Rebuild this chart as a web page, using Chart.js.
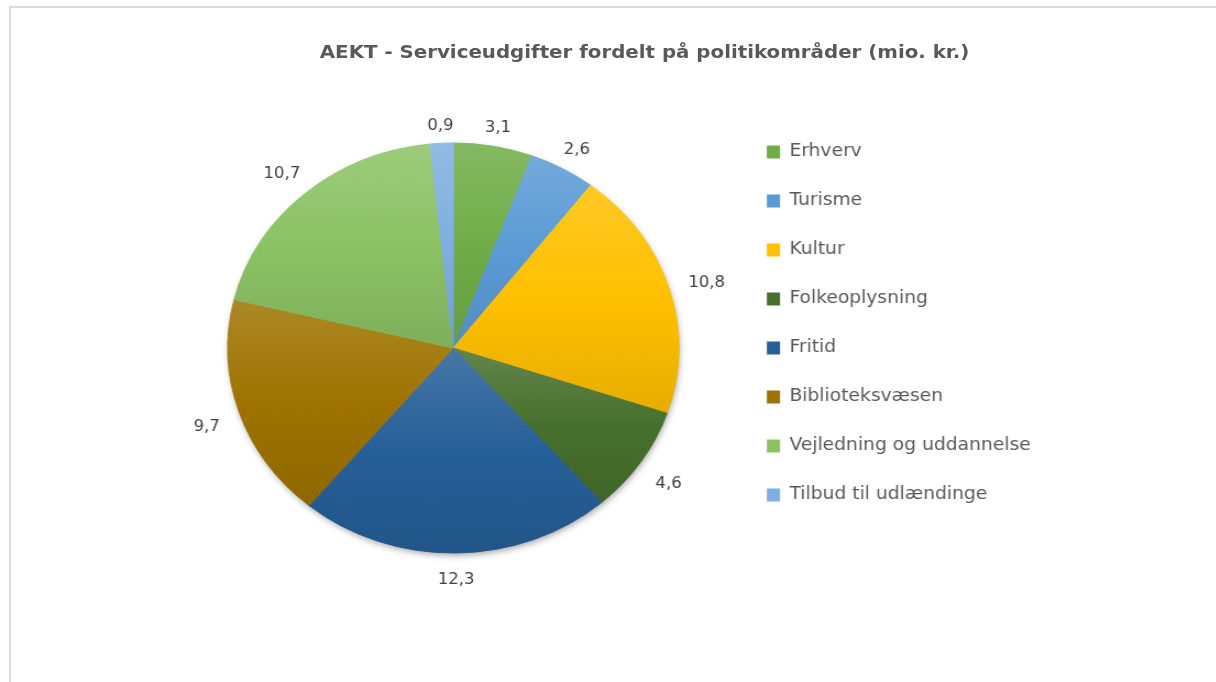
<!DOCTYPE html>
<html>
<head>
<meta charset="utf-8">
<script src="https://cdn.jsdelivr.net/npm/chart.js@4.4.1/dist/chart.umd.min.js"></script>
<style>
  html, body { margin: 0; padding: 0; background: #fff; overflow: hidden; }
  body { width: 1216px; height: 682px; position: relative; }
  #frame { position: absolute; left: 9px; top: 6px; width: 1300px; height: 800px;
           border-left: 2px solid #d9d9d9; border-top: 2px solid #d9d9d9; }
  /* the reference is a slightly wide screenshot, so the whole chart is stretched 1.1x */
  #stage { position: absolute; left: 0; top: 0; width: 1105px; height: 682px;
           transform: scaleX(1.1); transform-origin: 0 0; }
  #stage canvas { position: absolute; left: 0; top: 0; }
  #title { position: absolute; left: 0; top: 41px; width: 1172px; text-align: center;
           font: bold 18px "DejaVu Sans", sans-serif; line-height: 22px; color: #595959;
           white-space: nowrap; }
</style>
</head>
<body>
<div id="frame"></div>
<div id="stage">
  <canvas id="pie_chart" width="1105" height="682"></canvas>
  <div id="title">AEKT - Serviceudgifter fordelt på politikområder (mio. kr.)</div>
</div>
<script>
const categories = [
  "Erhverv",
  "Turisme",
  "Kultur",
  "Folkeoplysning",
  "Fritid",
  "Biblioteksvæsen",
  "Vejledning og uddannelse",
  "Tilbud til udlændinge",
];
const values = [3.1, 2.6, 10.8, 4.6, 12.3, 9.7, 10.7, 0.9];
const sliceColors = [
  "#70AD47",
  "#5B9BD5",
  "#FFC000",
  "#47702D",
  "#265F98",
  "#9E7300",
  "#8CC265",
  "#7FAFE0",
];

const pieRadius = 205;

Chart.defaults.font.family = "'DejaVu Sans', sans-serif";

const mix = (hex, target, t) => {
  const a = parseInt(hex.slice(1), 16);
  const b = parseInt(target.slice(1), 16);
  const ch = (v, s) => (v >> s) & 255;
  const c = (s) => Math.round(ch(a, s) * (1 - t) + ch(b, s) * t);
  return `rgb(${c(16)}, ${c(8)}, ${c(0)})`;
};

// vertical extent of slice i, for the excel-like top-to-bottom gradient
const sliceSpan = (i, cy, r) => {
  const total = values.reduce((acc, v) => acc + v, 0);
  let start = -Math.PI / 2;
  for (let k = 0; k < i; k++) start += (values[k] / total) * 2 * Math.PI;
  const end = start + (values[i] / total) * 2 * Math.PI;
  const ys = [cy, cy + r * Math.sin(start), cy + r * Math.sin(end)];
  if (start < Math.PI / 2 && end > Math.PI / 2) ys.push(cy + r);
  if (start <= -Math.PI / 2 + 1e-9 || end >= 1.5 * Math.PI - 1e-9) ys.push(cy - r);
  return [Math.min(...ys), Math.max(...ys)];
};

const sliceFill = (context) => {
  const i = context.dataIndex;
  if (i === undefined) return "#ffffff";
  const base = sliceColors[i];
  const chart = context.chart;
  const area = chart.chartArea;
  if (!area) return base;
  const cy = (area.top + area.bottom) / 2;
  const [y0, y1] = sliceSpan(i, cy, pieRadius);
  const g = chart.ctx.createLinearGradient(0, y0, 0, y1);
  g.addColorStop(0, mix(base, "#ffffff", 0.15));
  g.addColorStop(0.5, base);
  g.addColorStop(1, mix(base, "#000000", 0.1));
  return g;
};

const pieShadow = {
  id: "pieShadow",
  beforeDatasetsDraw(chart) {
    const arc = chart.getDatasetMeta(0).data[0];
    if (!arc) return;
    const { x, y, outerRadius } = arc.getProps(["x", "y", "outerRadius"], true);
    const ctx = chart.ctx;
    ctx.save();
    ctx.shadowColor = "rgba(0, 0, 0, 0.4)";
    ctx.shadowBlur = 7;
    ctx.shadowOffsetX = 1;
    ctx.shadowOffsetY = 3;
    ctx.fillStyle = "#ffffff";
    ctx.beginPath();
    ctx.arc(x, y, outerRadius - 1, 0, Math.PI * 2);
    ctx.fill();
    ctx.restore();
  },
};

const sliceLabels = {
  id: "sliceLabels",
  afterDatasetsDraw(chart) {
    const ctx = chart.ctx;
    ctx.save();
    ctx.font = "15px 'DejaVu Sans', sans-serif";
    ctx.fillStyle = "#404040";
    ctx.textAlign = "center";
    ctx.textBaseline = "middle";
    chart.getDatasetMeta(0).data.forEach((arc, i) => {
      const { x, y, startAngle, endAngle, outerRadius } = arc.getProps(
        ["x", "y", "startAngle", "endAngle", "outerRadius"],
        true
      );
      const mid = (startAngle + endAngle) / 2;
      const text = values[i].toFixed(1).replace(".", ",");
      const halfW = ctx.measureText(text).width / 2;
      const halfH = 2.5;
      const cos = Math.cos(mid);
      const sin = Math.sin(mid);
      const d = outerRadius + 19 + Math.abs(cos) * halfW + Math.abs(sin) * halfH;
      ctx.fillText(text, x + d * cos, y + d * sin + 5);
    });
    ctx.restore();
  },
};

new Chart(document.getElementById("pie_chart"), {
  type: "pie",
  data: {
    labels: categories,
    datasets: [
      {
        data: values,
        backgroundColor: sliceFill,
        borderColor: sliceFill,
        borderWidth: 1,
        hoverOffset: 0,
      },
    ],
  },
  options: {
    responsive: false,
    animation: false,
    radius: pieRadius,
    layout: {
      padding: { left: 159, right: 158, top: 111.5, bottom: 97.5 },
    },
    plugins: {
      title: { display: false },
      tooltip: { enabled: false },
      legend: {
        position: "right",
        align: "start",
        fullSize: false,
        labels: {
          color: "#595959",
          font: { size: 17 },
          boxWidth: 12,
          boxHeight: 13,
          padding: 32,
          generateLabels: (chart) =>
            Chart.overrides.pie.plugins.legend.labels
              .generateLabels(chart)
              .map((item, i) => ({
                ...item,
                fillStyle: sliceColors[i],
                strokeStyle: sliceColors[i],
                lineWidth: 0,
              })),
        },
      },
    },
  },
  plugins: [pieShadow, sliceLabels],
});
</script>
</body>
</html>
